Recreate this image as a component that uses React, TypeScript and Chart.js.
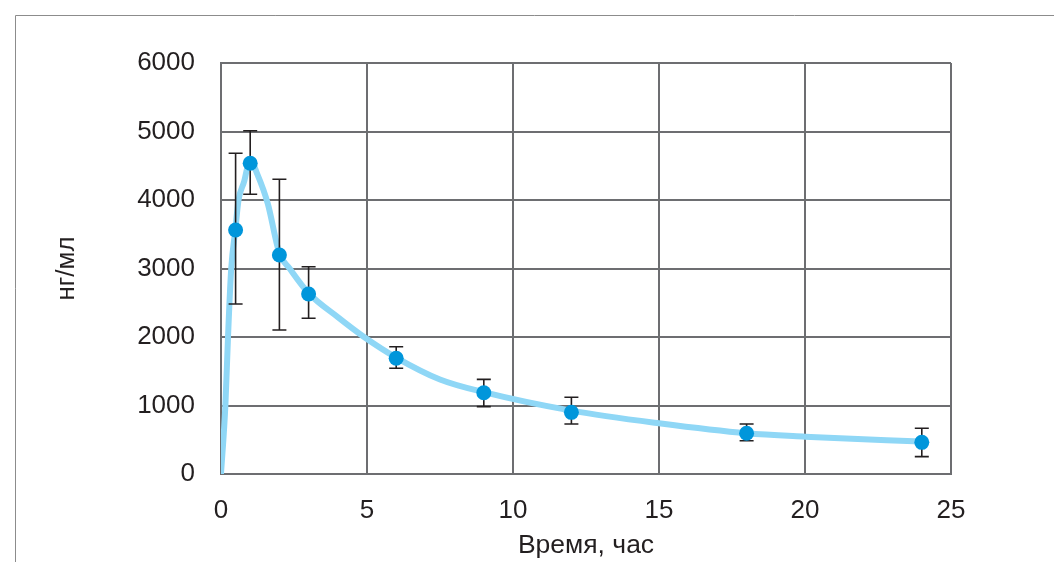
import React, { useEffect, useRef } from "react";
import { Chart, registerables } from "chart.js";

Chart.register(...registerables);

// Fitted concentration curve
const curveTimes = [0, 0.15, 0.24, 0.35, 0.49, 0.6, 0.8, 0.9, 1.0, 1.25, 1.6, 2.0, 2.35, 3.0, 4.0, 4.9, 6.0, 7.5, 9.0, 12.0, 15.0, 18.0, 20.0, 24.2];
const curveValues = [0, 1000, 2000, 3000, 3560, 4000, 4280, 4470, 4580, 4370, 3950, 3220, 3000, 2640, 2290, 2000, 1700, 1380, 1195, 925, 740, 594, 545, 470];

// Measured samples with error bars
const sampleTimes = [0.5, 1, 2, 3, 6, 9, 12, 18, 24];
const sampleMeans = [3562, 4536, 3197, 2628, 1689, 1187, 900, 594, 462];
const sampleLow = [2482, 4083, 2102, 2273, 1543, 983, 730, 486, 253];
const sampleHigh = [4682, 5010, 4302, 3026, 1858, 1382, 1120, 730, 667];

const xTitle = "Время, час";
const yTitle = "нг/мл";

const FONT = "'Liberation Sans', Arial, sans-serif";
const TEXT = "#231f20";
const GRID = "#6d6e71";

const framePlugin = {
  id: "outerFrame",
  beforeDraw(chart: any) {
    const ctx = chart.ctx;
    ctx.save();
    ctx.strokeStyle = "#8c8c8c";
    ctx.lineWidth = 1;
    ctx.beginPath();
    ctx.moveTo(15.5, chart.height);
    ctx.lineTo(15.5, 15.5);
    ctx.lineTo(chart.width, 15.5);
    ctx.stroke();
    ctx.restore();
  },
};

const errorBarPlugin = {
  id: "errorBars",
  afterDatasetDraw(chart: any, args: any) {
    if (args.index !== 0) return;
    const { ctx } = chart;
    const x = chart.scales.x;
    const y = chart.scales.y;
    ctx.save();
    ctx.strokeStyle = TEXT;
    ctx.lineWidth = 1.6;
    sampleTimes.forEach((t, i) => {
      const px = x.getPixelForValue(t);
      const yl = y.getPixelForValue(sampleLow[i]);
      const yh = y.getPixelForValue(sampleHigh[i]);
      ctx.beginPath();
      ctx.moveTo(px, yl);
      ctx.lineTo(px, yh);
      ctx.moveTo(px - 7, yl);
      ctx.lineTo(px + 7, yl);
      ctx.moveTo(px - 7, yh);
      ctx.lineTo(px + 7, yh);
      ctx.stroke();
    });
    ctx.restore();
  },
};

export default function App() {
  const ref = useRef<HTMLCanvasElement | null>(null);

  useEffect(() => {
    if (!ref.current) return;
    const chart = new Chart(ref.current, {
      type: "scatter",
      data: {
        datasets: [
          {
            label: "curve",
            data: curveTimes.map((t, i) => ({ x: t, y: curveValues[i] })),
            showLine: true,
            borderColor: "#8fd7f6",
            borderWidth: 6,
            pointRadius: 0,
            cubicInterpolationMode: "monotone",
            order: 2,
          } as any,
          {
            label: "samples",
            data: sampleTimes.map((t, i) => ({ x: t, y: sampleMeans[i] })),
            showLine: false,
            pointRadius: 7.5,
            pointBackgroundColor: "#0096db",
            pointBorderWidth: 0,
            borderColor: "#0096db",
            order: 1,
          } as any,
        ],
      },
      options: {
        animation: false,
        responsive: false,
        layout: { padding: { top: 63, right: 103, left: 0, bottom: 0 } },
        plugins: {
          legend: { display: false },
          tooltip: { enabled: false },
        },
        scales: {
          x: {
            type: "linear",
            min: 0,
            max: 25,
            ticks: {
              stepSize: 5,
              color: TEXT,
              font: { family: FONT, size: 26 },
              padding: 21,
              callback: (v: any) => String(v),
            },
            grid: { color: GRID, lineWidth: 2, drawTicks: false },
            border: { color: GRID, width: 2 },
            title: {
              display: true,
              text: xTitle,
              color: TEXT,
              font: { family: FONT, size: 26.5 },
              padding: { top: 0, bottom: 0 },
            },
            afterFit(scale: any) {
              scale.height = 88;
            },
          },
          y: {
            type: "linear",
            min: 0,
            max: 6000,
            ticks: {
              stepSize: 1000,
              color: TEXT,
              font: { family: FONT, size: 26 },
              padding: 26,
              callback: (v: any) => String(v),
            },
            grid: { color: GRID, lineWidth: 2, drawTicks: false },
            border: { color: GRID, width: 2 },
            title: {
              display: true,
              text: yTitle,
              color: TEXT,
              font: { family: FONT, size: 26 },
              padding: { top: 51, bottom: 0 },
            },
            afterFit(scale: any) {
              scale.width = 221;
            },
          },
        },
      },
      plugins: [framePlugin, errorBarPlugin],
    });
    return () => chart.destroy();
  }, []);

  return (
    <div style={{ position: "absolute", left: 0, top: 0, width: 1054, height: 562, background: "#fff" }}>
      <canvas ref={ref} width={1054} height={562} />
    </div>
  );
}
